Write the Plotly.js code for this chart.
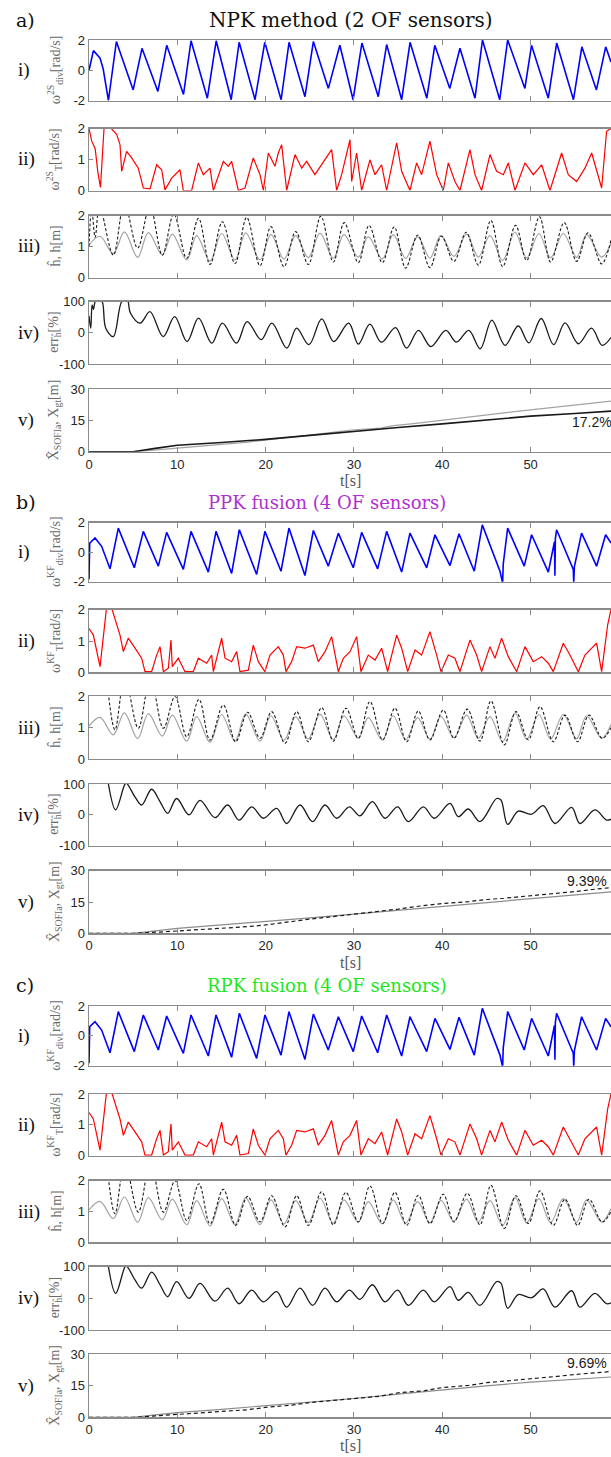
<!DOCTYPE html>
<html><head><meta charset="utf-8">
<script src="https://cdn.plot.ly/plotly-3.0.1.min.js"></script>
<style>html,body{margin:0;padding:0;background:#fff;overflow:hidden}#chart{width:611px;height:1457px}</style>
</head><body><div id="chart"></div>
<script>
// ---------- DATA ----------
// a) NPK method, i) divergence
const tDiv2S = [0,0.5,1.25,1.6,2.2,3.1,5.0,6.0,7.8,8.8,10.7,11.55,13.4,14.4,16.1,17.0,18.8,19.9,21.75,22.65,24.45,25.4,27.1,28.4,29.9,30.9,32.75,33.7,35.4,36.35,38.25,39.15,40.85,42.0,43.7,44.55,46.5,47.4,49.35,50.1,52.0,52.95,54.85,55.8,57.45,58.5,59.1];
const vDiv2S = [0,1.3,0.8,0.1,-2.0,1.9,-1.3,1.45,-1.4,1.65,-1.6,1.95,-1.85,1.95,-1.95,1.85,-1.95,1.85,-1.95,1.85,-1.75,1.9,-1.2,1.65,-1.95,1.8,-1.75,1.7,-1.95,1.85,-1.85,1.65,-1.2,1.45,-1.85,2.0,-1.95,2.0,-1.2,1.65,-1.85,1.8,-1.95,1.55,-1.3,1.55,0.55];
// a) ii) omega_T
const tT2S = [0,0.3,0.7,1.0,1.3,1.7,2.0,2.4,2.6,3.13,3.51,3.70,4.26,4.83,5.58,6.15,6.91,7.66,8.23,8.60,9.36,10.30,10.68,11.62,12.38,12.94,13.70,14.08,15.21,15.77,16.15,16.91,17.66,18.60,19.36,19.74,20.30,21.06,21.43,21.81,22.38,23.32,24.08,24.64,25.58,26.53,27.47,28.04,28.60,29.55,29.74,30.30,30.87,31.81,32.38,33.13,33.70,34.83,35.40,36.34,37.09,37.66,38.60,39.36,40.11,40.68,41.43,42.0,43.13,43.70,44.45,45.40,46.15,46.91,47.47,48.23,49.36,50.30,51.25,52.19,53.51,54.26,55.21,56.15,56.91,58.04,58.60,59.1];
const vT2S = [2.0,1.6,1.35,0.6,0.1,2.0,2.3,2.2,1.97,1.81,1.48,0.62,1.26,1.05,0.72,0.08,0.05,0.83,0.67,0.02,0.40,0.67,0,0,0.89,0.51,0.72,0,0.94,0.78,0.94,0,0.08,1.05,0.51,0,1.21,0.78,1.21,1.48,0,1.16,0.72,0.94,0.51,0.94,1.32,0,0.51,1.64,0.29,1.21,0,0.99,0.51,0.83,0,1.54,0.62,0,0.89,0.51,1.59,0.51,0,0.89,0.29,0,1.32,0.51,0,1.16,0.62,0.51,0.89,0,0.89,0.51,0.83,0,1.21,0.51,0.29,0.72,1.21,0.08,1.91,2.0];
// ground-truth height h (grey, all sections)
const tH = [0,1.25,2.75,4.0,5.51,6.72,8.30,9.43,11.06,12.19,13.70,15.02,16.53,17.74,19.36,20.60,22.08,23.40,24.83,26.15,27.66,28.87,30.49,31.62,33.21,34.45,35.85,37.21,38.60,39.85,41.32,42.75,44.08,45.40,46.83,48.23,49.55,50.94,52.26,53.70,55.21,56.34,58.04,59.1];
const vH = [1.05,1.33,0.77,1.47,0.65,1.45,0.73,1.40,0.57,1.35,0.53,1.42,0.57,1.44,0.57,1.38,0.60,1.35,0.64,1.43,0.62,1.38,0.66,1.32,0.60,1.38,0.62,1.32,0.63,1.36,0.68,1.40,0.66,1.35,0.55,1.46,0.63,1.42,0.64,1.42,0.65,1.38,0.66,1.10];
// a) iii) estimated height (dashed)
const tHe2S = [0,0.3,0.7,1.2,2.75,4.0,5.5,6.9,8.3,9.6,11.06,12.4,13.7,15.1,16.53,17.85,19.36,20.6,22.08,23.4,24.83,26.25,27.66,28.9,30.49,31.7,33.21,34.55,35.85,37.21,38.6,39.9,41.32,42.7,44.08,45.5,46.83,48.3,49.55,51.0,52.26,53.8,55.21,56.5,58.04,59.1];
const vHe2S = [1.0,2.2,1.3,2.3,0.72,2.4,0.95,2.3,0.72,2.05,0.62,1.91,0.42,1.8,0.45,1.94,0.38,1.64,0.35,1.48,0.42,1.98,0.5,1.77,0.48,1.68,0.48,1.63,0.3,1.37,0.32,1.33,0.52,1.46,0.4,1.84,0.35,1.68,0.55,1.96,0.5,1.77,0.52,1.44,0.44,1.2];
// a) iv) error
const tErr2S = [0,0.2,0.35,0.5,0.7,1.1,1.5,1.9,2.75,3.7,4.3,4.7,5.8,6.9,8.4,9.7,11.1,12.4,13.9,15.1,16.7,17.9,19.5,20.7,22.4,23.5,24.9,26.35,27.7,29.4,30.5,31.8,33.1,34.7,35.95,37.3,38.7,40.4,41.6,43.0,44.3,45.6,47.1,48.6,49.8,51.2,52.6,53.9,55.4,56.9,58.1,59.1];
const vErr2S = [55,15,90,75,100,110,100,15,-12,100,110,63,31,68,-12,52,-28,47,-33,31,-33,36,-22,31,-49,15,-38,45,-28,31,-36,28,-30,17,-49,8,-44,8,-30,8,-51,41,-40,22,-32,46,-38,32,-35,15,-40,-15];
// a) v) distance
const tXBlackA = [0,5,7.5,10,15,20,25,30,35,40,45,50,55,59.1];
const vXBlackA = [0,0,1.6,3.1,4.4,5.9,7.8,9.8,11.6,13.3,15.2,17.0,18.3,19.4];
const tXGreyA = [0,5,7,10,12,15,18,20,22,25,28,30,33,34.5,37,40,43,45,47,50,53,55,57,59.1];
const vXGreyA = [0,0,0.6,1.8,2.6,3.5,4.6,5.5,6.4,8.0,9.5,10.5,11.3,12.5,13.6,15.2,16.8,17.6,18.6,20.0,21.3,22.4,23.3,24.2];

// b) & c) KF fusion, i) divergence
const tDivKF = [0,0.08,0.68,1.43,2.38,3.32,5.13,6.15,7.85,8.79,10.68,11.55,13.51,14.38,16.15,17.02,18.98,19.92,21.74,22.64,24.45,25.40,27.09,28.23,29.92,30.87,32.68,33.70,35.40,36.34,38.23,39.17,40.87,41.89,43.62,44.53,46.53,46.83,46.9,47.40,49.28,50.11,52.0,52.7,52.75,52.8,52.94,54.83,54.88,54.95,55.77,57.47,58.49,59.1];
const vDivKF = [-1.84,0.61,0.95,0.39,-1.13,1.62,-1.06,1.40,-0.95,1.33,-1.17,1.40,-1.35,1.40,-1.44,1.51,-1.51,1.40,-1.29,1.62,-1.58,1.46,-0.95,1.28,-1.06,1.33,-1.13,1.40,-1.35,1.28,-1.06,1.17,-0.91,1.24,-1.29,1.84,-1.29,-2.1,-0.8,1.62,-0.95,1.17,-1.35,0.7,-1.6,0.9,1.51,-1.17,-2.1,-1.0,1.28,-0.95,1.17,0.61];
// ii) omega_T
const tTKF = [0,0.49,1.25,2.0,2.57,3.13,3.51,3.89,4.45,5.21,5.96,6.34,7.09,7.66,8.04,8.42,8.98,9.28,9.43,10.11,10.87,11.81,12.38,13.32,13.89,14.08,15.02,15.40,16.15,16.72,17.09,18.04,18.60,19.17,19.92,20.49,21.43,22.0,22.30,22.94,23.51,24.45,25.40,25.96,26.72,27.47,28.23,28.79,29.55,30.30,30.79,31.62,32.38,33.13,33.81,34.83,35.40,36.08,36.91,37.66,38.60,39.36,39.85,40.68,41.43,42.0,43.13,43.89,44.45,45.40,45.96,46.72,47.47,48.42,49.36,50.30,51.25,52.0,52.57,53.70,54.45,55.40,56.15,57.47,58.04,58.72,59.1];
const vTKF = [1.40,1.19,0.18,2.1,2.05,1.51,1.19,0.66,1.09,0.77,0.45,0.02,0.02,0.55,0.82,0.02,0.13,1.03,0.18,0.45,0.02,0.02,0.45,0.29,0.55,0.02,1.09,0.45,0.34,0.66,0.02,0.07,0.87,0.34,0.02,0.55,0.82,0.55,0.02,0.34,0.82,0.77,0.87,0.34,0.66,1.14,0.02,0.45,0.66,1.14,0.02,0.55,0.39,0.77,0.02,1.19,0.77,0.02,0.71,0.55,1.30,0.55,0.02,0.55,0.45,0.02,1.03,0.55,0.02,0.82,0.45,1.09,0.50,0.02,0.82,0.34,0.50,0.29,0.02,0.93,0.55,0.02,0.55,0.93,0.02,1.51,2.0];
// iii) estimated height (dashed)
const tHeKF = [2.0,2.94,4.05,5.58,6.95,8.42,9.74,11.06,12.45,13.70,15.21,16.60,17.96,19.36,20.68,22.19,23.51,24.83,26.34,27.66,29.09,30.49,31.81,33.25,34.64,35.96,37.28,38.60,40.11,41.32,42.83,44.26,45.51,47.02,48.34,49.74,51.06,52.57,53.89,55.32,56.60,58.11,59.1];
const vHeKF = [2.6,0.93,2.6,0.98,2.6,0.98,2.0,0.71,1.9,0.6,1.72,0.55,1.49,0.66,1.51,0.5,1.51,0.55,1.64,0.57,1.62,0.66,1.83,0.61,1.62,0.55,1.53,0.61,1.56,0.66,1.59,0.57,1.85,0.45,1.51,0.61,1.67,0.55,1.40,0.55,1.40,0.66,1.0];
// iv) error
const tErrKF = [2.11,3.02,4.08,4.26,5.21,5.96,7.09,8.04,8.91,9.92,11.32,12.57,14.26,15.70,16.98,18.42,19.74,21.25,22.38,23.89,25.32,26.72,28.04,29.47,30.68,32.08,33.51,34.94,36.15,37.85,39.09,40.87,41.81,42.94,44.26,46.15,46.64,47.40,48.60,50.11,51.43,52.75,54.64,55.58,57.28,58.60,59.1];
const vErrKF = [115,16,100,102,58,32,83,43,5,53,0,47,-9,32,-17,26,-11,21,-28,32,-22,32,-11,26,-3,43,-11,26,-22,26,-11,37,-6,19,-22,53,48,-31,12,2,30,-28,24,-28,16,-17,-14];
// b) v) distance
const tXSolidB = [0,5,7,10,15,20,25,30,35,40,45,50,55,59.1];
const vXSolidB = [0,0,0.9,2.4,4.0,5.6,7.4,9.2,11.0,12.9,14.6,16.4,18.2,19.9];
const tXDashB = [0,5,8,10,12,15,18,20,22,25,28,30,33,35,37,40,43,45,47,50,53,55,57,59.1];
const vXDashB = [0,0,0.6,1.1,1.6,2.4,3.2,4.0,5.2,6.8,8.2,9.2,10.4,11.6,12.8,14.3,15.2,16.2,16.8,17.9,19.2,20.0,21.0,21.9];
// c) v) distance
const tXSolidC = [0,5,7,10,15,20,25,30,35,40,45,50,55,59.1];
const vXSolidC = [0,0,0.9,2.2,3.8,5.4,7.2,8.9,11.0,13.1,14.9,16.7,18.0,19.1];
const tXDashC = [0,5,8,10,13,15,18,20,23,25,28,30,33,35,38,40,43,45,48,50,53,55,57,59.1];
const vXDashC = [0,0,0.8,1.4,2.0,2.6,3.6,4.7,5.8,7.0,8.2,9.0,10.0,11.6,12.6,14.1,15.1,16.4,17.4,18.3,19.4,20.3,21.0,21.7];

const xTicks = [0,10,20,30,40,50];
const rowYRange = [[-2,2],[0,2],[0,2],[-100,100],[0,30]];
const rowYTicks = [[-2,0,2],[0,1,2],[0,1,2],[-100,0,100],[0,15,30]];
const rowYTickText = [['-2','0','2'],['0','1','2'],['0','1','2'],['-100','0','100'],['0','15','30']];
const rowNames = ['i)','ii)','iii)','iv)','v)'];
const sectionLetters = ['a)','b)','c)'];
const sectionTitles = ['NPK method (2 OF sensors)','PPK fusion (4 OF sensors)','RPK fusion (4 OF sensors)'];
const errLabels = ['17.2%','9.39%','9.69%'];
const errLabelPos = [[54.5,14.1],[58.9,25.2],[58.9,25.9]];

// ---------- LAYOUT ----------
const W=611,H=1457,L=89,X_MAX=59.1;
const pw = W-L;
const px2x = px => (px-L)/pw;
const py2y = py => 1-py/H;
const panelPx = [
 [[40,100.5],[128.5,190.5],[215.5,277.5],[301.7,364],[389,451.7]],
 [[522.5,581.7],[609.7,672.3],[696.3,759],[784,845.7],[870.7,933.3]],
 [[1006,1065.7],[1094,1155.7],[1180.7,1242.3],[1266.7,1330],[1354,1417.3]]
];
const titleY = [20,502,985];
const titleColors = ['#111111','#b02fd0','#1ee61e'];
const titleSize = [20,18,18];
const tsY = [481,962,1445];

const axisCol = '#8a8a8a';
const tickFont = {family:'Liberation Sans, Arial, sans-serif', size:13, color:'#262626'};
const serif = 'Liberation Serif, DejaVu Serif, serif';

const layout = {width:W,height:H,margin:{l:L,r:0,t:0,b:0},paper_bgcolor:'#fff',plot_bgcolor:'#fff',showlegend:false,annotations:[]};
const data = [];
const BLUE='#0000ff', RED='#ff0000', GREY='#a3a3a3', BLACK='#1a1a1a';

function line(n,x,y,opt){
  data.push(Object.assign({type:'scatter',mode:'lines',x:x,y:y,xaxis:'x'+n,yaxis:'y'+n,hoverinfo:'skip'},{line:opt}));
}

const yLabels = [
 ['ω<sup>2S</sup><sub>div</sub>[rad/s]','ω<sup>2S</sup><sub>T</sub>[rad/s]','ĥ, h[m]','err<sub>ĥ</sub>[%]','X̂<sub>SOFIa</sub>, X<sub>gt</sub>[m]'],
 ['ω<sup>KF</sup><sub>div</sub>[rad/s]','ω<sup>KF</sup><sub>T</sub>[rad/s]','ĥ, h[m]','err<sub>ĥ</sub>[%]','X̂<sub>SOFIa</sub>, X<sub>gt</sub>[m]'],
 ['ω<sup>KF</sup><sub>div</sub>[rad/s]','ω<sup>KF</sup><sub>T</sub>[rad/s]','ĥ, h[m]','err<sub>ĥ</sub>[%]','X̂<sub>SOFIa</sub>, X<sub>gt</sub>[m]']
];

for(let s=0;s<3;s++){
  for(let r=0;r<5;r++){
    const n = s*5+r+1;
    const [top,bot] = panelPx[s][r];
    const xs = n===1?'':n, ys = n===1?'':n;
    layout['xaxis'+xs] = {domain:[0,1],range:[0,X_MAX],anchor:'y'+n,tickvals:xTicks,ticks:'inside',ticklen:5,tickwidth:1,tickcolor:axisCol,
      showline:true,linecolor:axisCol,linewidth:1.4,mirror:'allticks',showgrid:false,zeroline:false,showticklabels:r===4,tickfont:tickFont,fixedrange:true};
    layout['yaxis'+ys] = {domain:[py2y(bot),py2y(top)],range:rowYRange[r],anchor:'x'+n,tickvals:rowYTicks[r],ticktext:rowYTickText[r],ticks:'inside',ticklen:4,tickcolor:axisCol,
      showline:true,linecolor:axisCol,linewidth:1.4,mirror:false,showgrid:false,zeroline:false,tickfont:tickFont,fixedrange:true};
    const cy = py2y((top+bot)/2);
    layout.annotations.push({xref:'paper',yref:'paper',x:px2x(16),y:cy,xanchor:'left',yanchor:'middle',text:rowNames[r],showarrow:false,font:{family:serif,size:19,color:'#111'}});
    layout.annotations.push({xref:'paper',yref:'paper',x:px2x(55),y:cy,xanchor:'center',yanchor:'middle',textangle:-90,text:yLabels[s][r],showarrow:false,font:{family:serif,size:14,color:'#6a6a6a'}});
  }
  layout.annotations.push({xref:'paper',yref:'paper',x:px2x(14),y:py2y(titleY[s]),xanchor:'left',yanchor:'middle',text:sectionLetters[s],showarrow:false,font:{family:'DejaVu Serif, serif',size:19,color:'#111'}});
  layout.annotations.push({xref:'paper',yref:'paper',x:px2x(s===0?351:327),y:py2y(titleY[s]),xanchor:'center',yanchor:'middle',text:sectionTitles[s],showarrow:false,font:{family:'DejaVu Serif, serif',size:titleSize[s],color:titleColors[s]}});
  layout.annotations.push({xref:'x'+(s*5+5),yref:'paper',x:29.6,y:py2y(tsY[s]),xanchor:'center',yanchor:'middle',text:'t[s]',showarrow:false,font:{family:serif,size:16,color:'#555'}});
  layout.annotations.push({xref:'x'+(s*5+5),yref:'y'+(s*5+5),x:errLabelPos[s][0],y:errLabelPos[s][1],xanchor:s===0?'left':'right',yanchor:'middle',text:errLabels[s],showarrow:false,font:{family:'Liberation Sans, Arial, sans-serif',size:14,color:'#1a1a1a'}});
}

// ---------- TRACES ----------
// a)
line(1,tDiv2S,vDiv2S,{color:BLUE,width:1.6});
line(2,tT2S,vT2S,{color:RED,width:1.2});
line(3,tH,vH,{color:GREY,width:1.2,shape:'spline',smoothing:1});
line(3,tHe2S,vHe2S,{color:BLACK,width:1.1,dash:'3px,2px',shape:'spline',smoothing:1});
line(4,tErr2S,vErr2S,{color:BLACK,width:1.3,shape:'spline',smoothing:1});
line(5,tXGreyA,vXGreyA,{color:GREY,width:1.2});
line(5,tXBlackA,vXBlackA,{color:BLACK,width:1.6});
// b) and c)
for(const s of [1,2]){
  const b = s*5;
  line(b+1,tDivKF,vDivKF,{color:BLUE,width:1.6});
  line(b+2,tTKF,vTKF,{color:RED,width:1.2});
  line(b+3,tH,vH,{color:GREY,width:1.2,shape:'spline',smoothing:1});
  line(b+3,tHeKF,vHeKF,{color:BLACK,width:1.1,dash:'3px,2px',shape:'spline',smoothing:1});
  line(b+4,tErrKF,vErrKF,{color:BLACK,width:1.3,shape:'spline',smoothing:1});
}
line(10,tXSolidB,vXSolidB,{color:'#8c8c8c',width:1.2});
line(10,tXDashB,vXDashB,{color:BLACK,width:1.2,dash:'4px,3px'});
line(15,tXSolidC,vXSolidC,{color:'#8c8c8c',width:1.2});
line(15,tXDashC,vXDashC,{color:BLACK,width:1.2,dash:'4px,3px'});

Plotly.newPlot('chart',data,layout,{staticPlot:true,displayModeBar:false});
</script>
</body></html>
